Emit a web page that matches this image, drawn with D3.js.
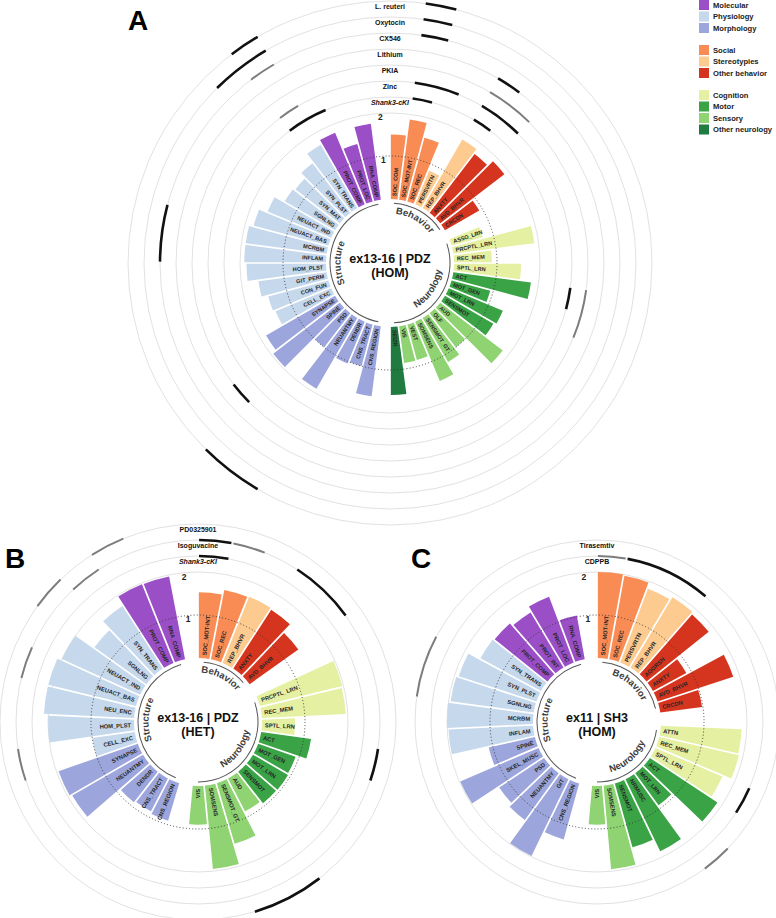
<!DOCTYPE html>
<html><head><meta charset="utf-8">
<script src="https://cdn.jsdelivr.net/npm/d3@7/dist/d3.min.js"></script>
<style>
body{margin:0;background:#fff}
svg{display:block}
text{font-family:"Liberation Sans",Arial,Helvetica,sans-serif}
</style></head>
<body><svg id="chart" width="776" height="918"></svg>
<script>
// ---------------- DATA ----------------
const subgroupNames = ["Molecular","Physiology","Morphology","Social","Stereotypies","Other behavior","Cognition","Motor","Sensory","Other neurology"];
const subgroupColors = ["#9b4fc6","#c6d8ec","#9da6dc","#f98c55","#fdca8f","#d5351f","#e5f0a2","#3aa346","#8fd372","#1f7b40"];
const subgroupSections = ["Structure","Structure","Structure","Behavior","Behavior","Behavior","Neurology","Neurology","Neurology","Neurology"];

const molecularCats = ["PROT_COMP","PROT_LOC","PROT_INT","RNA_COMP"];
const physiologyCats = ["CELL_EXC","CON_FUN","GIT_PERM","HOM_PLST","INFLAM","MCRBM","NEUACT_BAS","NEUACT_IND","SGNLNG","SYN_MAT","SYN_PLST","SYN_TRANS","NEU_ENC"];
const morphologyCats = ["CNS_REGION","CNS_TRACT","DENDR","NEUANTMY","PSD","SPINE","SYNAPSE","SKEL_MUSC","GIT"];
const socialCats = ["SOC_COM","SOC_MOT-INT","SOC_REC"];
const stereotypyCats = ["PERSVRTN","REP_BHVR"];
const otherBehaviorCats = ["ANXTY","AVD_BHVR","CRCDN","AGGRSN"];
const cognitionCats = ["ASSO_LRN","PRCPTL_LRN","REC_MEM","SPTL_LRN","ATTN"];
const motorCats = ["ACT","MOT_GEN","MOT_LRN","SENSMOT","NRMUSC"];
const sensoryCats = ["AUD","OLF","SENSMOT_GT","SOMSENS","VEST","VIS"];
const otherNeurologyCats = ["SEIZR"];

// Panel A : ex13-16 | PDZ (HOM)
const A_categories = ["SOC_COM","SOC_MOT-INT","SOC_REC","PERSVRTN","REP_BHVR","ANXTY","AVD_BHVR","CRCDN",
  "ASSO_LRN","PRCPTL_LRN","REC_MEM","SPTL_LRN","ACT","MOT_GEN","MOT_LRN","SENSMOT","AUD","OLF","SENSMOT_GT","SOMSENS","VEST","VIS","SEIZR",
  "CNS_REGION","CNS_TRACT","DENDR","NEUANTMY","PSD","SPINE","SYNAPSE","CELL_EXC","CON_FUN","GIT_PERM","HOM_PLST","INFLAM","MCRBM","NEUACT_BAS","NEUACT_IND","SGNLNG","SYN_MAT","SYN_PLST","SYN_TRANS","PROT_COMP","PROT_LOC","RNA_COMP"];
const A_values = [1.50,1.88,1.53,0.84,1.84,1.72,1.88,0.92,
  0.75,1.90,0.88,1.56,1.82,0.93,1.36,1.30,1.83,1.00,1.18,1.49,0.85,0.86,1.58,
  1.64,1.00,1.05,1.90,1.00,1.95,1.85,1.40,1.45,1.60,1.85,1.90,1.90,1.80,1.60,1.35,1.30,1.45,1.70,1.80,1.38,1.78];
const A_tracks = ["Shank3-cKI","Zinc","PKIA","Lithium","CX546","Oxytocin","L. reuteri"];
const A_rescues = [
  [6,"SOC_MOT-INT","SOC_MOT-INT","black"],[5,"SOC_MOT-INT","SOC_MOT-INT","black"],[4,"SOC_MOT-INT","SOC_MOT-INT","black"],
  [1,"SOC_MOT-INT","SOC_REC","black"],[0,"SOC_MOT-INT","SOC_MOT-INT","black"],
  [3,"REP_BHVR","REP_BHVR","black"],[2,"REP_BHVR","ANXTY","gray"],[1,"REP_BHVR","ANXTY","black"],[0,"REP_BHVR","REP_BHVR","black"],
  [1,"ACT","ACT","black"],[2,"ACT","MOT_GEN","gray"],
  [2,"SPINE","SPINE","black"],[6,"NEUANTMY","PSD","black"],
  [4,"INFLAM","MCRBM","black"],
  [6,"SYN_TRANS","SYN_TRANS","black"],[5,"SYN_PLST","SYN_TRANS","black"],[4,"SYN_TRANS","SYN_TRANS","gray"],
  [1,"SYN_TRANS","SYN_TRANS","gray"],[0,"SYN_TRANS","PROT_COMP","black"]
];

// Panel B : ex13-16 | PDZ (HET)
const B_categories = ["SOC_MOT-INT","SOC_REC","REP_BHVR","ANXTY","AVD_BHVR",
  "PRCPTL_LRN","REC_MEM","SPTL_LRN","ACT","MOT_GEN","MOT_LRN","SENSMOT","AUD","SENSMOT_GT","SOMSENS","VIS",
  "CNS_REGION","CNS_TRACT","DENDR","NEUANTMY","SYNAPSE","CELL_EXC","HOM_PLST","NEU_ENC","NEUACT_BAS","NEUACT_IND","SGNLNG","SYN_TRANS","PROT_COMP","RNA_COMP"];
const B_values = [1.53,1.64,1.66,1.63,1.39,
  1.97,1.95,0.77,1.17,0.92,0.94,0.93,0.86,1.47,1.95,0.90,
  0.91,0.86,0.90,1.90,1.95,1.00,2.00,2.10,2.10,2.00,1.48,1.73,1.97,1.96];
const B_tracks = ["Shank3-cKI","Isoguvacine","PD0325901"];
const B_rescues = [
  [0,"SOC_MOT-INT","SOC_MOT-INT","black"],[1,"SOC_MOT-INT","SOC_MOT-INT","black"],[1,"SOC_REC","SOC_REC","gray"],
  [1,"ANXTY","AVD_BHVR","black"],[1,"ACT","ACT","black"],[2,"AUD","SENSMOT_GT","black"],
  [2,"PROT_COMP","PROT_COMP","gray"],[1,"SYN_TRANS","SYN_TRANS","gray"],[2,"SGNLNG","SGNLNG","gray"],
  [1,"NEUACT_BAS","NEUACT_BAS","gray"],[1,"CELL_EXC","CELL_EXC","gray"]
];

// Panel C : ex11 | SH3 (HOM)
const C_categories = ["SOC_MOT-INT","SOC_REC","PERSVRTN","REP_BHVR","AGGRSN","ANXTY","AVD_BHVR","CRCDN",
  "ATTN","REC_MEM","SPTL_LRN","ACT","MOT_LRN","NRMUSC","SENSMOT","SOMSENS","VIS",
  "CNS_REGION","GIT","NEUANTMY","PSD","SKEL_MUSC","SPINE","INFLAM","MCRBM","SGNLNG","SYN_PLST","SYN_TRANS","PROT_COMP","PROT_INT","PROT_LOC","RNA_COMP"];
const C_values = [2.00,1.97,1.83,1.90,1.85,0.88,1.85,0.98,
  1.88,1.90,1.69,1.88,0.92,1.86,1.54,1.95,0.90,
  1.35,1.98,1.34,1.25,1.98,1.10,1.97,2.00,1.95,1.90,1.60,1.57,1.49,1.63,1.03];
const C_tracks = ["CDPPB","Tirasemtiv"];
const C_rescues = [
  [0,"SOC_MOT-INT","SOC_MOT-INT","gray"],[0,"SOC_REC","REP_BHVR","black"],
  [0,"SPTL_LRN","SPTL_LRN","black"],[1,"MOT_LRN","MOT_LRN","gray"],[1,"SGNLNG","SYN_PLST","gray"]
];

// ---------------- DRAWING ----------------
const svg = d3.select("#chart");
const colorOf = d3.scaleOrdinal().domain(subgroupNames).range(subgroupColors);
const sectionOfSub = d3.scaleOrdinal().domain(subgroupNames).range(subgroupSections);
const subgroupLists = [molecularCats,physiologyCats,morphologyCats,socialCats,stereotypyCats,otherBehaviorCats,cognitionCats,motorCats,sensoryCats,otherNeurologyCats];
const subOf = {};
subgroupLists.forEach((l,i)=>l.forEach(c=>subOf[c]=subgroupNames[i]));

const y = d3.scaleLinear().domain([0,2]).range([64,150]);
const TRACK0 = 166, TRACKSTEP = 16;

function drawPanel(cfg){
  const g = svg.append("g").attr("transform",`translate(${cfg.cx},${cfg.cy})`);
  const data = cfg.cats.map((c,i)=>({id:c, v:cfg.vals[i], sub:subOf[c], sec:sectionOfSub(subOf[c])}));
  const slots = [];
  data.forEach((d,i)=>{
    slots.push(d.id);
    if(i===data.length-1 || data[i+1].sec!==d.sec) slots.push("__gap"+i);
  });
  const x = d3.scaleBand().domain(slots).range([0,2*Math.PI]);
  const bw = x.bandwidth();
  const deg = a=>a*180/Math.PI;

  const ringR = [y(2)].concat(cfg.tracks.map((t,i)=>TRACK0+TRACKSTEP*i));
  g.selectAll("circle.ring").data(ringR).join("circle").attr("class","ring")
    .attr("r",d=>d).attr("fill","none").attr("stroke","#e2e2e2").attr("stroke-width",1);

  const barArc = d3.arc().innerRadius(y(0)).outerRadius(d=>y(d.v))
    .startAngle(d=>x(d.id)).endAngle(d=>x(d.id)+bw).padAngle(0.017).padRadius(100);
  g.selectAll("path.bar").data(data).join("path").attr("class","bar")
    .attr("d",barArc).attr("fill",d=>colorOf(d.sub));

  g.append("circle").attr("r",y(1)).attr("fill","none").attr("stroke","#333")
    .attr("stroke-width",0.9).attr("stroke-dasharray","1,2.2");

  g.selectAll("text.lab").data(data).join("text").attr("class","lab")
    .attr("transform",d=>{
      const a = deg(x(d.id)+bw/2);
      return a<180 ? `rotate(${a-90}) translate(${y(0)+3},0)` : `rotate(${a-90}) translate(${y(0)+3},0) rotate(180)`;
    })
    .attr("text-anchor",d=>deg(x(d.id)+bw/2)<180?"start":"end")
    .attr("dy","0.35em").attr("font-size",cfg.labSize).attr("font-weight","bold").attr("fill","#262626")
    .text(d=>d.id);

  const gapA = x(slots[slots.length-1])+bw/2;
  [[1,y(1)-4],[2,y(2)-4]].forEach(([t,r])=>{
    g.append("text").attr("x",r*Math.sin(gapA)).attr("y",-r*Math.cos(gapA)).attr("dy","0.35em")
      .attr("text-anchor","middle").attr("font-size",8.5).attr("font-weight","bold").attr("fill","#222").text(t);
  });

  const sections = d3.groups(data,d=>d.sec);
  sections.forEach(([sec,items],si)=>{
    const a0 = x(items[0].id)+bw/2, a1 = x(items[items.length-1].id)+bw/2;
    const lineArc = d3.arc().innerRadius(59.5).outerRadius(60.5).startAngle(a0).endAngle(a1);
    g.append("path").attr("d",lineArc()).attr("fill","#555");
    const mid = (a0+a1)/2;
    const midDeg = deg(mid);
    const bottom = midDeg>95 && midDeg<265;
    const r = bottom ? 52 : 49.5;
    const s0 = mid-1.0, s1 = mid+1.0;
    const p = (a)=>[r*Math.sin(a), -r*Math.cos(a)];
    let dpath;
    if(!bottom){ const [xa,ya]=p(s0),[xb,yb]=p(s1); dpath=`M${xa},${ya}A${r},${r} 0 0 1 ${xb},${yb}`; }
    else { const [xa,ya]=p(s1),[xb,yb]=p(s0); dpath=`M${xa},${ya}A${r},${r} 0 0 0 ${xb},${yb}`; }
    const id = `${cfg.key}_sec${si}`;
    g.append("path").attr("id",id).attr("d",dpath).attr("fill","none");
    g.append("text").attr("font-size",9.5).attr("font-weight","bold").attr("fill","#3c3c3c")
      .append("textPath").attr("href","#"+id).attr("startOffset","50%").attr("text-anchor","middle").text(sec);
  });

  cfg.rescues.forEach(([ti,from,to,col])=>{
    const r = TRACK0+TRACKSTEP*ti;
    const w = col==="black"?2.6:2.0;
    const ra = d3.arc().innerRadius(r-w/2).outerRadius(r+w/2)
      .startAngle(x(from)+0.006).endAngle(x(to)+bw-0.006);
    g.append("path").attr("d",ra()).attr("fill",col==="black"?"#111":"#7d7d7d");
  });

  cfg.tracks.forEach((t,i)=>{
    g.append("text").attr("x",0).attr("y",-(TRACK0+TRACKSTEP*i-6)).attr("dy","0.35em")
      .attr("text-anchor","middle").attr("font-size",7).attr("font-weight","bold")
      .attr("font-style",t.startsWith("Shank3")?"italic":"normal").attr("fill","#111").text(t);
  });

  g.append("text").attr("y",0).attr("text-anchor","middle").attr("font-size",12.5).attr("font-weight","bold").attr("fill","#111").text(cfg.title[0]);
  g.append("text").attr("y",14).attr("text-anchor","middle").attr("font-size",12.5).attr("font-weight","bold").attr("fill","#111").text(cfg.title[1]);

  svg.append("text").attr("x",cfg.letterPos[0]).attr("y",cfg.letterPos[1]).attr("font-size",28)
    .attr("font-weight","bold").attr("fill","#000").text(cfg.letter);
}

drawPanel({key:"A",cx:390,cy:263,cats:A_categories,vals:A_values,tracks:A_tracks,rescues:A_rescues,
  title:["ex13-16 | PDZ","(HOM)"],letter:"A",letterPos:[128,30],labSize:5.6});
drawPanel({key:"B",cx:198,cy:722,cats:B_categories,vals:B_values,tracks:B_tracks,rescues:B_rescues,
  title:["ex13-16 | PDZ","(HET)"],letter:"B",letterPos:[5,568],labSize:5.8});
drawPanel({key:"C",cx:597,cy:722,cats:C_categories,vals:C_values,tracks:C_tracks,rescues:C_rescues,
  title:["ex11 | SH3","(HOM)"],letter:"C",letterPos:[411,568],labSize:5.8});

const legendBlocks = [[0,1,2],[3,4,5],[6,7,8,9]];
const blockTop = [0,45,90];
const leg = svg.append("g");
legendBlocks.forEach((blk,bi)=>{
  blk.forEach((si,k)=>{
    const yy = blockTop[bi]+k*11.5;
    leg.append("rect").attr("x",699).attr("y",yy).attr("width",10).attr("height",10).attr("fill",subgroupColors[si]);
    leg.append("text").attr("x",713).attr("y",yy+5).attr("dy","0.35em").attr("font-size",7.6)
      .attr("font-weight","bold").attr("fill","#222").text(subgroupNames[si]);
  });
});
</script></body></html>
